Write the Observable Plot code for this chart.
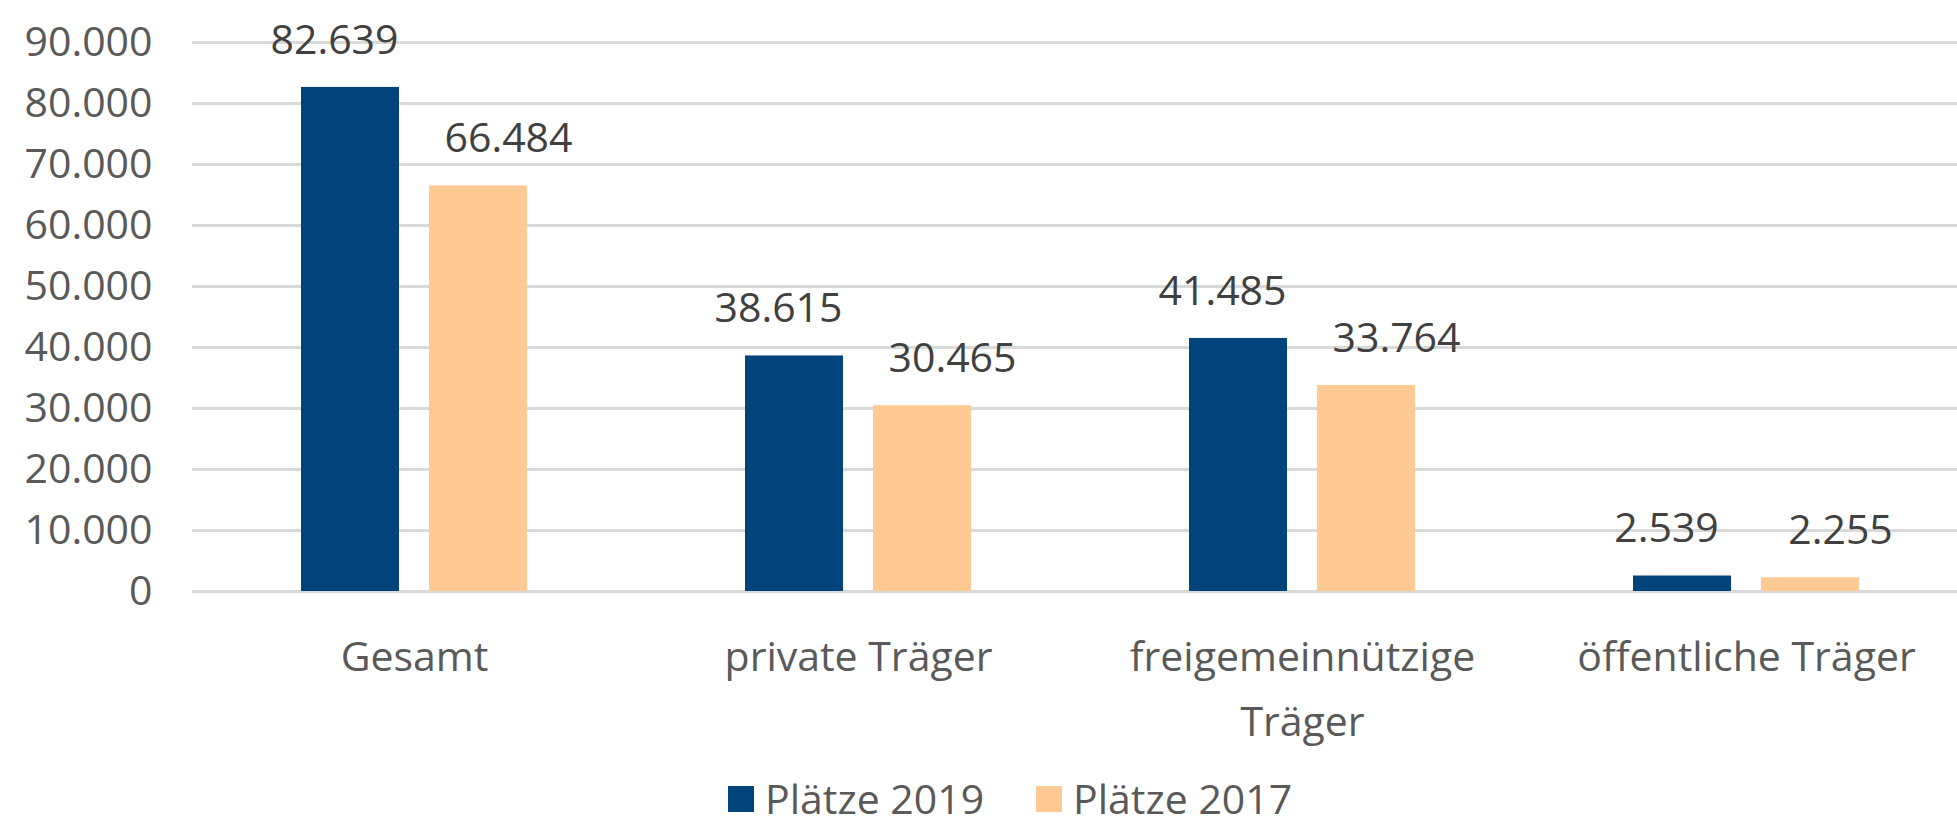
<!DOCTYPE html>
<html><head><meta charset="utf-8">
<script src="https://cdn.jsdelivr.net/npm/d3@7"></script>
<script src="https://cdn.jsdelivr.net/npm/@observablehq/plot@0.6"></script>
<style>
body{margin:0;background:#fff;font-family:"Open Sans",sans-serif;overflow:hidden;}
#legend{display:flex;align-items:center;height:57px;padding-left:728px;color:#595959;font-size:41px;line-height:1;}
.item{display:flex;align-items:center;margin-right:52px}
.sw{width:26px;height:26px;margin-right:11px}
</style></head><body><div id="chart"></div><div id="legend"></div>
<script>
const categories = ["Gesamt", "private Träger", "freigemeinnützige\nTräger", "öffentliche Träger"];
const series = ["Plätze 2019", "Plätze 2017"];
const values2019 = [82639, 38615, 41485, 2539];
const values2017 = [66484, 30465, 33764, 2255];
const yTicks = [0, 10000, 20000, 30000, 40000, 50000, 60000, 70000, 80000, 90000];
const colors = ["#00447b", "#ffc993"];

const de = d3.formatLocale({decimal: ",", thousands: ".", grouping: [3], currency: ["", " €"]});
const fmt = de.format(",d");

const rows = [];
categories.forEach((c, i) => {
  rows.push({cat: c, series: series[0], value: values2019[i]});
  rows.push({cat: c, series: series[1], value: values2017[i]});
});

const chart = Plot.plot({
  width: 1957,
  height: 770,
  marginLeft: 192,
  marginRight: -11,
  marginTop: 42,
  marginBottom: 179,
  style: {fontFamily: "Open Sans", fontSize: "41px", color: "#595959", background: "#fff"},
  fx: {domain: categories, padding: 0, label: null, axis: null},
  x: {domain: series, paddingInner: 0.233, paddingOuter: 0.843, axis: null},
  y: {domain: [0, 90000], axis: null},
  color: {domain: series, range: colors},
  marks: [
    Plot.gridY(yTicks, {stroke: "#d9d9d9", strokeOpacity: 1, strokeWidth: 3}),
    Plot.axisY(yTicks, {tickSize: 0, tickPadding: 40, tickFormat: fmt, label: null, fontSize: 41}),
    Plot.axisFx({anchor: "bottom", tickSize: 0, tickPadding: 34, lineHeight: 1.58, label: null, fontSize: 41}),
    Plot.barY(rows, {fx: "cat", x: "series", y: "value", fill: "series"}),
    Plot.text(rows.filter(d => d.series === series[0]), {fx: "cat", x: "series", y: "value", text: d => fmt(d.value), dy: -47, dx: -16, fill: "#404040", fontSize: 41}),
    Plot.text(rows.filter(d => d.series === series[1]), {fx: "cat", x: "series", y: "value", text: d => fmt(d.value), dy: -47, dx: 30, fill: "#404040", fontSize: 41})
  ]
});
document.getElementById("chart").appendChild(chart);

const legend = document.getElementById("legend");
series.forEach((s, i) => {
  const item = document.createElement("div");
  item.className = "item";
  const sw = document.createElement("span");
  sw.className = "sw";
  sw.style.background = colors[i];
  const t = document.createElement("span");
  t.textContent = s;
  item.appendChild(sw);
  item.appendChild(t);
  legend.appendChild(item);
});
</script>
</body></html>
